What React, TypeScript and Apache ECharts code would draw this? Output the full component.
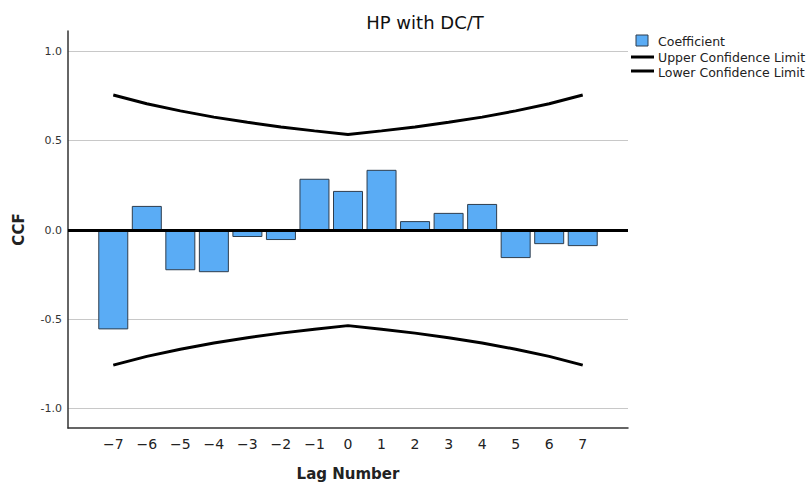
import React, { useEffect, useRef } from "react";
import * as echarts from "echarts";

const lags = [-7, -6, -5, -4, -3, -2, -1, 0, 1, 2, 3, 4, 5, 6, 7];
const coefficient = [-0.556, 0.135, -0.225, -0.236, -0.039, -0.056, 0.287, 0.219, 0.337, 0.05, 0.096, 0.146, -0.157, -0.079, -0.09];
const upperLimit = [0.756, 0.707, 0.667, 0.632, 0.603, 0.577, 0.555, 0.535, 0.555, 0.577, 0.603, 0.632, 0.667, 0.707, 0.756];
const lowerLimit = [-0.756, -0.707, -0.667, -0.632, -0.603, -0.577, -0.555, -0.535, -0.555, -0.577, -0.603, -0.632, -0.667, -0.707, -0.756];
const yTicks = [-1.0, -0.5, 0.0, 0.5, 1.0];
const legendNames = ["Coefficient", "Upper Confidence Limit", "Lower Confidence Limit"];

const FONT = "DejaVu Sans";

export default function App() {
  const ref = useRef<HTMLDivElement>(null);
  useEffect(() => {
    if (!ref.current) return;
    const chart = echarts.init(ref.current, null, { renderer: "svg" });
    const minus = (v: number) => (v < 0 ? "\u2212" + Math.abs(v) : String(v));
    chart.setOption({
      animation: false,
      backgroundColor: "#fff",
      title: {
        text: "HP with DC/T",
        left: 420,
        top: 8,
        textAlign: "center",
        textStyle: { fontFamily: FONT, fontSize: 18, fontWeight: "normal", color: "#111" },
      },
      grid: { left: 68, right: 179, top: 31, bottom: 56, containLabel: false, outerBoundsMode: "none" },
      xAxis: {
        type: "value",
        min: -8.35,
        max: 8.35,
        name: "Lag Number",
        nameLocation: "middle",
        nameGap: 38,
        nameTextStyle: { fontFamily: FONT, fontSize: 15, fontWeight: "bold", color: "#222" },
        axisLine: { show: true, onZero: false, lineStyle: { color: "#333", width: 1.5 } },
        axisTick: { show: false, customValues: lags },
        splitLine: { show: false },
        axisLabel: {
          customValues: lags,
          formatter: (v: number) => minus(v),
          fontFamily: FONT,
          fontSize: 14,
          color: "#222",
          margin: 9,
        },
      },
      yAxis: {
        type: "value",
        min: -1.108,
        max: 1.114,
        name: "CCF",
        nameLocation: "middle",
        nameRotate: 90,
        nameGap: 42,
        nameTextStyle: { fontFamily: FONT, fontSize: 15, fontWeight: "bold", color: "#222" },
        axisLine: { show: true, onZero: false, lineStyle: { color: "#333", width: 1.5 } },
        axisTick: { show: false, customValues: yTicks },
        splitLine: { show: true, lineStyle: { color: "#c8c8c8", width: 1 } },
        axisLabel: {
          customValues: yTicks,
          formatter: (v: number) => v.toFixed(1),
          fontFamily: FONT,
          fontSize: 11,
          color: "#333",
          margin: 6,
        },
      },
      series: [
        {
          name: legendNames[0],
          type: "bar",
          barWidth: 30,
          data: lags.map((l, i) => [l, coefficient[i]]),
          itemStyle: { color: "#5aacf5", borderColor: "#2e3d4d", borderWidth: 1 },
        },
        {
          name: legendNames[1],
          type: "line",
          symbol: "none",
          data: lags.map((l, i) => [l, upperLimit[i]]),
          lineStyle: { color: "#000", width: 3 },
          z: 3,
        },
        {
          name: legendNames[2],
          type: "line",
          symbol: "none",
          data: lags.map((l, i) => [l, lowerLimit[i]]),
          lineStyle: { color: "#000", width: 3 },
          z: 3,
          markLine: {
            silent: true,
            symbol: "none",
            label: { show: false },
            lineStyle: { color: "#000", width: 3, type: "solid" },
            data: [{ yAxis: 0 }],
          },
        },
      ],
      graphic: [
        { type: "rect", shape: { x: 636, y: 35, width: 12, height: 11 }, style: { fill: "#5aacf5", stroke: "#2e3d4d", lineWidth: 1 } },
        { type: "text", x: 658, y: 41, style: { text: legendNames[0], fontFamily: FONT, fontSize: 12.5, fill: "#222", textVerticalAlign: "middle" } },
        { type: "line", shape: { x1: 631, y1: 57, x2: 654, y2: 57 }, style: { stroke: "#000", lineWidth: 3 } },
        { type: "text", x: 658, y: 57, style: { text: legendNames[1], fontFamily: FONT, fontSize: 12.5, fill: "#222", textVerticalAlign: "middle" } },
        { type: "line", shape: { x1: 631, y1: 71, x2: 654, y2: 71 }, style: { stroke: "#000", lineWidth: 3 } },
        { type: "text", x: 658, y: 72, style: { text: legendNames[2], fontFamily: FONT, fontSize: 12.5, fill: "#222", textVerticalAlign: "middle" } },
      ],
    });
    return () => chart.dispose();
  }, []);
  return <div ref={ref} style={{ position: "absolute", left: 0, top: 0, width: 807, height: 484 }} />;
}
